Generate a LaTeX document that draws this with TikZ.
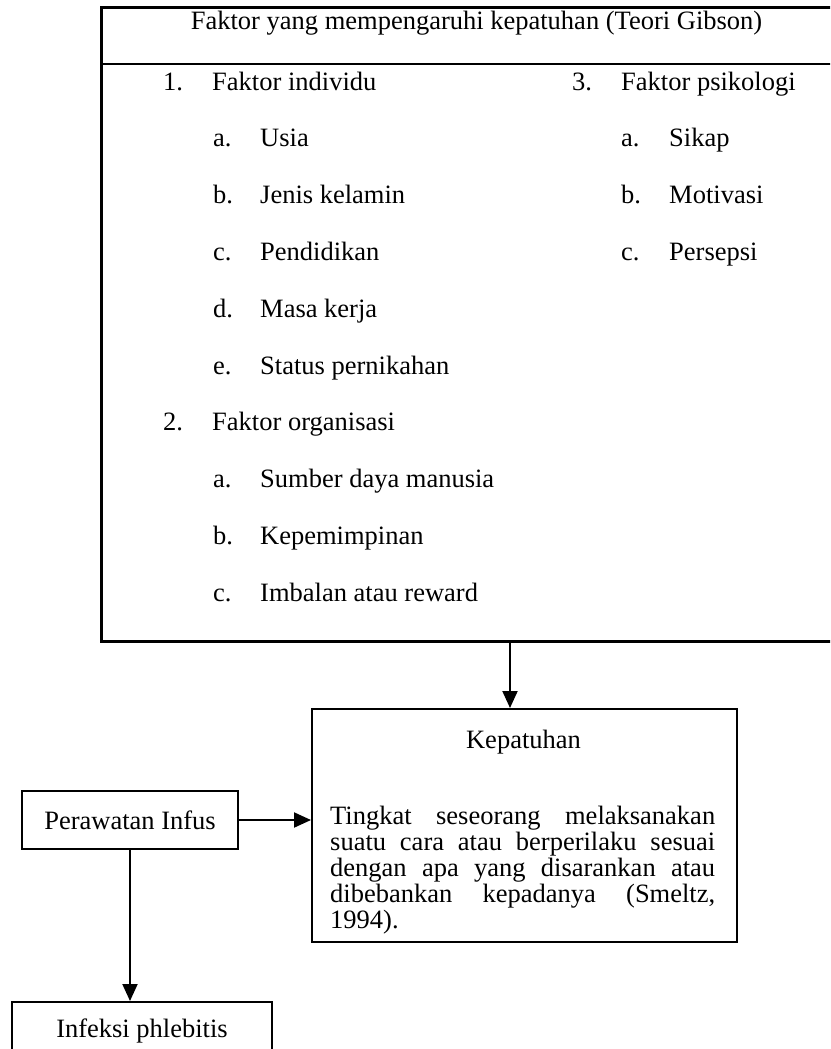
\documentclass[tikz,border=0pt]{standalone}
\usepackage{fontspec}
\setmainfont{Liberation Serif}
\usetikzlibrary{arrows.meta}
\newcommand\mysz{\fontsize{26.5pt}{30pt}\selectfont}
\begin{document}
\begin{tikzpicture}[x=1pt,y=-1pt,
  txt/.style={anchor=base west, inner sep=0pt, font=\mysz},
  ctxt/.style={anchor=base, inner sep=0pt, font=\mysz},
  arr/.style={line width=2pt, -{Triangle[length=17pt,width=15pt]}},
  boxs/.style={draw, line width=2pt, inner sep=0pt}]
\useasboundingbox (0,0) rectangle (830,1049);
\clip (0,0) rectangle (830,1049);
\fill[white] (0,0) rectangle (830,1049);

% top box
\node (faktor) [draw, line width=2.6pt, inner sep=0pt, minimum width=760pt, minimum height=634pt, anchor=north west] at (100,6) {};
\draw[line width=2.6pt] ([yshift=-58pt]faktor.north west) -- ([yshift=-58pt]faktor.north east);
\node (title) [ctxt] at (476.5,30) {Faktor yang mempengaruhi kepatuhan (Teori Gibson)};

% left column
\node (n1) [txt] at (163,90) {1.};
\node (t1) [txt] at (212,90) {Faktor individu};
\node (n1a) [txt] at (213,146.8) {a.};
\node (t1a) [txt] at (260,146.8) {Usia};
\node (n1b) [txt] at (213,203.6) {b.};
\node (t1b) [txt] at (260,203.6) {Jenis kelamin};
\node (n1c) [txt] at (213,260.4) {c.};
\node (t1c) [txt] at (260,260.4) {Pendidikan};
\node (n1d) [txt] at (213,317.2) {d.};
\node (t1d) [txt] at (260,317.2) {Masa kerja};
\node (n1e) [txt] at (213,374) {e.};
\node (t1e) [txt] at (260,374) {Status pernikahan};
\node (n2) [txt] at (163,430.8) {2.};
\node (t2) [txt] at (212,430.8) {Faktor organisasi};
\node (n2a) [txt] at (213,487.6) {a.};
\node (t2a) [txt] at (260,487.6) {Sumber daya manusia};
\node (n2b) [txt] at (213,544.4) {b.};
\node (t2b) [txt] at (260,544.4) {Kepemimpinan};
\node (n2c) [txt] at (213,601.2) {c.};
\node (t2c) [txt] at (260,601.2) {Imbalan atau reward};

% right column
\node (n3) [txt] at (572,90) {3.};
\node (t3) [txt] at (621,90) {Faktor psikologi};
\node (n3a) [txt] at (621,146.8) {a.};
\node (t3a) [txt] at (669,146.8) {Sikap};
\node (n3b) [txt] at (621,203.6) {b.};
\node (t3b) [txt] at (669,203.6) {Motivasi};
\node (n3c) [txt] at (621,260.4) {c.};
\node (t3c) [txt] at (669,260.4) {Persepsi};

% Kepatuhan box
\node (kep) [boxs, minimum width=425pt, minimum height=233pt, anchor=north west] at (311,708) {};
\node (kept) [ctxt] at (523.5,748) {Kepatuhan};
\node (k1) [txt] at (330,824) {\makebox[385pt][s]{Tingkat seseorang melaksanakan}};
\node (k2) [txt] at (330,850) {\makebox[385pt][s]{suatu cara atau berperilaku sesuai}};
\node (k3) [txt] at (330,876) {\makebox[385pt][s]{dengan apa yang disarankan atau}};
\node (k4) [txt] at (330,902) {\makebox[385pt][s]{dibebankan kepadanya (Smeltz,}};
\node (k5) [txt] at (330,928) {1994).};

% Perawatan Infus
\node (per) [boxs, minimum width=216pt, minimum height=58pt, font=\mysz] at (130,820) {Perawatan Infus};

% Infeksi phlebitis (cut off at bottom)
\node (inf) [boxs, anchor=north, minimum width=260pt, text height=35pt, text depth=40pt, font=\mysz] at (142,1001) {Infeksi phlebitis};

% connectors
\draw[arr] ([xshift=410pt]faktor.south west) -- ([xshift=410pt]faktor.south west |- kep.north);
\draw[arr] (per.east) -- (per.east -| kep.west);
\draw[arr] (per.south) -- (per.south |- inf.north);
\end{tikzpicture}
\end{document}
